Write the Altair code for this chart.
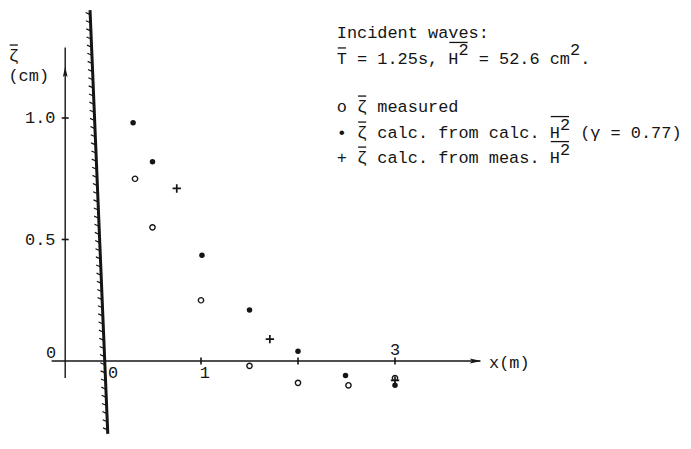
import altair as alt
import pandas as pd
import numpy as np

# ---------------- data ----------------
x_measured = [0.32, 0.50, 1.00, 1.50, 2.00, 2.52, 3.00]
y_measured = [0.75, 0.55, 0.25, -0.02, -0.09, -0.10, -0.07]

x_calc_calc = [0.30, 0.50, 1.01, 1.50, 2.00, 2.49, 3.00]
y_calc_calc = [0.98, 0.82, 0.435, 0.21, 0.04, -0.06, -0.10]

x_calc_meas = [0.75, 1.71, 3.00]
y_calc_meas = [0.71, 0.09, -0.08]

x_tick_values = [1, 2, 3]
y_tick_values = [0.5, 1.0]

# legend, typed as on a typewriter (blank cells kept for the raised "2")
legend_main = [
    "Incident waves:",
    "T = 1.25s, H  = 52.6 cm .",
    "o \u03b6 measured",
    "\u2022 \u03b6 calc. from calc. H  (\u03b3 = 0.77)",
    "+ \u03b6 calc. from meas. H",
]
# (line, character cell) of each raised "2"
legend_sup = [(1, 12), (1, 23), (3, 22), (4, 22)]
# (line, first cell, number of cells, raised?) of each overbar
legend_bars = [(1, 0, 1, False), (1, 11, 2, True),
               (2, 2, 1, False), (3, 2, 1, False), (3, 21, 2, True),
               (4, 2, 1, False), (4, 21, 2, True)]

# ---------------- scales ----------------
W, H = 675, 428
PX_X, X0 = 97.0, 96.0      # pixels per metre, pixel of x = 0
PX_Y, Y0 = 243.0, 353.0    # pixels per cm, pixel of y = 0
xdom = [-X0 / PX_X, (W - X0) / PX_X]
ydom = [-(H - Y0) / PX_Y, Y0 / PX_Y]
PY = 1.0 / PX_Y            # one pixel in y data units
PXU = 1.0 / PX_X           # one pixel in x data units

X = alt.X("x:Q", scale=alt.Scale(domain=xdom, nice=False, zero=False), axis=None)
Y = alt.Y("y:Q", scale=alt.Scale(domain=ydom, nice=False, zero=False), axis=None)

INK = "#151515"
FONT = "Liberation Mono"
FS = 16.9
CELL = 0.6 * FS * PXU      # monospace character cell in x data units

NB = "\u00a0"


def keep_spaces(s):
    return s.replace(" ", NB)


def text_layer(df, align="left", size=FS):
    return alt.Chart(df).mark_text(
        font=FONT, fontSize=size, align=align, baseline="middle", color=INK
    ).encode(x=X, y=Y, text="t:N")


# ---------------- axes (drawn as marks) ----------------
y_axis_x = -0.40
yaxis_df = pd.DataFrame({"x": [y_axis_x, y_axis_x], "y": [-0.07, 1.29]})
xaxis_df = pd.DataFrame({"x": [-0.54, 3.88], "y": [0.0, 0.0]})

yaxis = alt.Chart(yaxis_df).mark_line(color=INK, strokeWidth=1.4).encode(x=X, y=Y)
xaxis = alt.Chart(xaxis_df).mark_line(color=INK, strokeWidth=1.4).encode(x=X, y=Y)

arrow_up = alt.Chart(pd.DataFrame({"x": [y_axis_x], "y": [1.19]})).mark_point(
    shape="M 0 -1 L 0.45 1 L 0 0.6 L -0.45 1 Z", size=110, filled=True, color=INK, opacity=1
).encode(x=X, y=Y)
arrow_right = alt.Chart(pd.DataFrame({"x": [3.83], "y": [0.0]})).mark_point(
    shape="M 1 0 L -1 0.45 L -0.6 0 L -1 -0.45 Z", size=130, filled=True, color=INK, opacity=1
).encode(x=X, y=Y)

xticks = alt.Chart(pd.DataFrame({"x": x_tick_values, "y": [0.0] * len(x_tick_values)})).mark_point(
    shape="M 0 -1 L 0 1", size=49, filled=False, color=INK, strokeWidth=1.6, opacity=1
).encode(x=X, y=Y)
yticks = alt.Chart(pd.DataFrame({"x": [y_axis_x] * len(y_tick_values), "y": y_tick_values})).mark_point(
    shape="M -1 0 L 1 0", size=49, filled=False, color=INK, strokeWidth=1.6, opacity=1
).encode(x=X, y=Y)

# tick labels
ylabels = text_layer(pd.DataFrame({"x": [-0.50, -0.50], "y": [1.0, 0.5], "t": ["1.0", "0.5"]}), align="right")
labels = text_layer(pd.DataFrame({
    "x": [-0.546, 0.093, 1.04, 3.0],
    "y": [0.033, -0.049, -0.049, 0.045],
    "t": ["0", "0", "1", "3"],
}), align="center")

xtitle = text_layer(pd.DataFrame({"x": [3.97], "y": [-0.008], "t": ["x(m)"]}))
zeta_x, zeta_y = -0.93, 1.255
ytitle = text_layer(pd.DataFrame({"x": [zeta_x], "y": [zeta_y], "t": ["\u03b6"]}), align="center")
ytitle2 = text_layer(pd.DataFrame({"x": [xdom[0] + 0.005], "y": [1.172], "t": ["(cm)"]}))

# ---------------- legend: text segments, raised "2" and overbars ----------------
leg_x = 2.40
leg_y = [1.35, 1.243, 1.045, 0.938, 0.835]

seg_rows = []
for li, s in enumerate(legend_main):
    cuts = sorted(c for l, c in legend_sup if l == li)
    start = 0
    for c in cuts + [len(s)]:
        piece = s[start:c]
        stripped = piece.lstrip(" ")
        lead = len(piece) - len(stripped)
        stripped = stripped.rstrip(" ")
        if stripped:
            seg_rows.append({"x": leg_x + (start + lead) * CELL, "y": leg_y[li],
                             "t": keep_spaces(stripped)})
        start = c + 1
legend = text_layer(pd.DataFrame(seg_rows))

sup_df = pd.DataFrame({
    "x": [leg_x + (c + 0.5) * CELL for _, c in legend_sup],
    "y": [leg_y[l] + 8.5 * PY for l, _ in legend_sup],
    "t": ["2"] * len(legend_sup),
})
sup = text_layer(sup_df, align="center")

bar_rows = []
for line, first, n, high in legend_bars:
    bar_rows.append({
        "x": leg_x + first * CELL + 1.0 * PXU,
        "x2": leg_x + (first + n) * CELL - 1.0 * PXU,
        "y": leg_y[line] + (16.5 if high else 11.0) * PY,
    })
bar_rows.append({"x": zeta_x - 0.5 * CELL + PXU, "x2": zeta_x + 0.5 * CELL - PXU,
                 "y": zeta_y + 11.0 * PY})
bars = alt.Chart(pd.DataFrame(bar_rows)).mark_rule(color=INK, strokeWidth=1.3).encode(
    x=X, x2="x2:Q", y=Y
)

# ---------------- wall with hatching ----------------
wall_x = [-0.144, 0.039]
wall_y = [1.444, -0.30]
wall = alt.Chart(pd.DataFrame({"x": wall_x, "y": wall_y})).mark_line(
    color=INK, strokeWidth=3
).encode(x=X, y=Y)
t = np.linspace(0.01, 0.99, 52)
hatch_df = pd.DataFrame({
    "x": wall_x[0] + t * (wall_x[1] - wall_x[0]) - 0.006,
    "y": wall_y[0] + t * (wall_y[1] - wall_y[0]),
})
hatch = alt.Chart(hatch_df).mark_point(
    shape="M 0 0 L -1 -0.45", size=64, filled=False, color=INK, strokeWidth=1.2, opacity=1
).encode(x=X, y=Y)

# ---------------- data points ----------------
meas = alt.Chart(pd.DataFrame({"x": x_measured, "y": y_measured})).mark_point(
    shape="circle", size=28, filled=False, color=INK, strokeWidth=1.4, opacity=1
).encode(x=X, y=Y)
cc = alt.Chart(pd.DataFrame({"x": x_calc_calc, "y": y_calc_calc})).mark_point(
    shape="circle", size=30, filled=True, color=INK, opacity=1
).encode(x=X, y=Y)
cm = alt.Chart(pd.DataFrame({"x": x_calc_meas, "y": y_calc_meas})).mark_point(
    shape="M -1 0 L 1 0 M 0 -1 L 0 1", size=70, filled=False, color=INK, strokeWidth=1.7, opacity=1
).encode(x=X, y=Y)

chart = alt.layer(
    wall, hatch, xaxis, yaxis, arrow_up, arrow_right, xticks, yticks,
    ylabels, labels, xtitle, ytitle, ytitle2,
    meas, cc, cm, legend, sup, bars
).properties(
    width=W, height=H, padding=0, autosize="none", background="white"
).configure_view(stroke=None)

chart.save("out.html", embed_options={"renderer": "svg", "actions": False})
